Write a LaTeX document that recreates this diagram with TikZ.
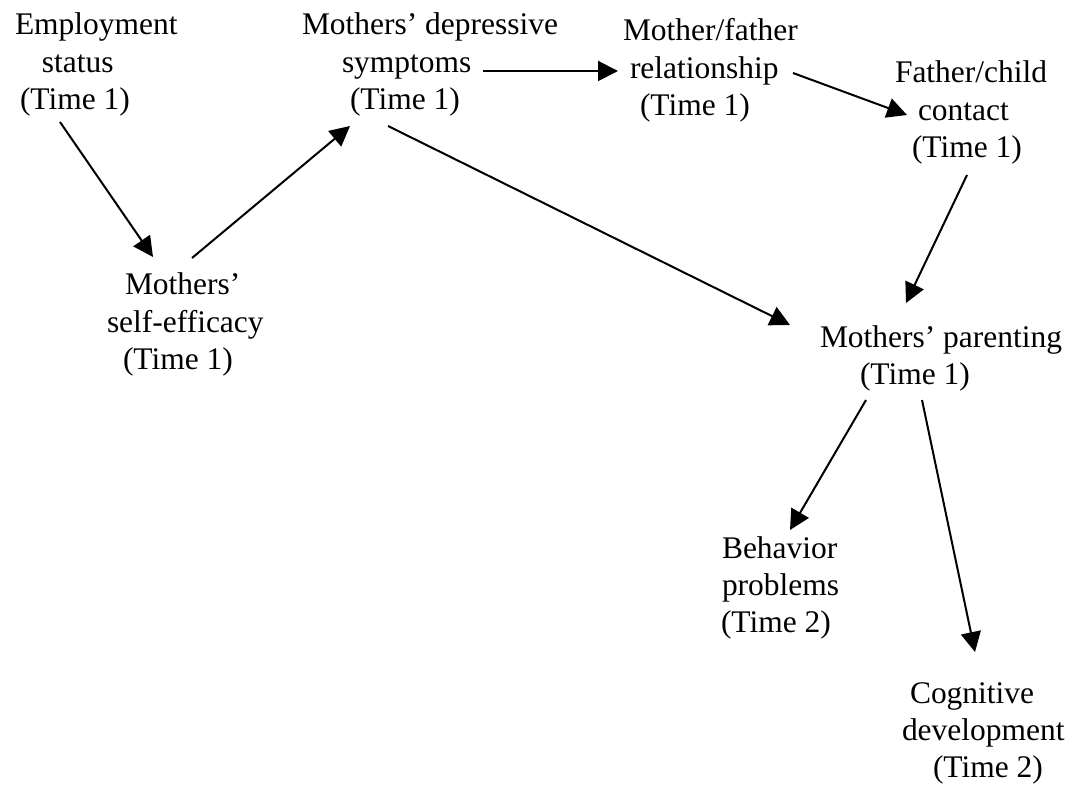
\documentclass[tikz,border=0pt]{standalone}
\usepackage{fontspec}
\setmainfont{Liberation Serif}
\usetikzlibrary{arrows.meta}
\newdimen\px \px=0.75pt
\newcommand\blklines[1]{\vtop{\baselineskip=28.1pt\lineskiplimit=-20pt\lineskip=0pt #1}}
\newcommand\tline[2]{\hbox{\kern#1\px #2}}
\tikzset{
  blk/.style={anchor=base west, inner sep=0pt, outer sep=0pt, font=\fontsize{23.6pt}{28.1pt}\selectfont},
  arr/.style={line width=1.5pt, -{Triangle[length=15pt,width=15pt]}}
}
\begin{document}
\begin{tikzpicture}[x=0.75pt,y=-0.75pt]
\useasboundingbox (0,0) rectangle (1073,791);
\node[blk] (emp) at (15,35) {\blklines{\tline{0}{Employment}\tline{27}{status}\tline{5}{(Time 1)}}};
\node[blk] (dep) at (302,35) {\blklines{\tline{0}{Mothers’ depressive}\tline{40}{symptoms}\tline{48}{(Time 1)}}};
\node[blk] (mf) at (623,41) {\blklines{\tline{0}{Mother/father}\tline{7}{relationship}\tline{17}{(Time 1)}}};
\node[blk] (fc) at (895,83) {\blklines{\tline{0}{Father/child}\tline{23}{contact}\tline{17}{(Time 1)}}};
\node[blk] (se) at (107,295) {\blklines{\tline{18}{Mothers’}\tline{0}{self-efficacy}\tline{16}{(Time 1)}}};
\node[blk] (par) at (820,347) {\blklines{\tline{0}{Mothers’ parenting}\tline{40}{(Time 1)}}};
\node[blk] (beh) at (721,558) {\blklines{\tline{1}{Behavior}\tline{1}{problems}\tline{0}{(Time 2)}}};
\node[blk] (cog) at (902,703) {\blklines{\tline{8}{Cognitive}\tline{0}{development}\tline{31}{(Time 2)}}};

\draw[arr] ([shift={(45,87)}]emp.base west) -- ([shift={(46,-38)}]se.base west);
\draw[arr] ([shift={(85,-37)}]se.base west) -- ([shift={(48,91)}]dep.base west);
\draw[arr] ([shift={(181,36)}]dep.base west) -- ([shift={(-5,30)}]mf.base west);
\draw[arr] ([shift={(170,32)}]mf.base west) -- ([shift={(12,32)}]fc.base west);
\draw[arr] ([shift={(86,91)}]dep.base west) -- ([shift={(-30,-22)}]par.base west);
\draw[arr] ([shift={(72,92)}]fc.base west) -- ([shift={(86,-44)}]par.base west);
\draw[arr] ([shift={(46,53)}]par.base west) -- ([shift={(69,-28)}]beh.base west);
\draw[arr] ([shift={(102,53)}]par.base west) -- ([shift={(73,-51)}]cog.base west);
\end{tikzpicture}
\end{document}
